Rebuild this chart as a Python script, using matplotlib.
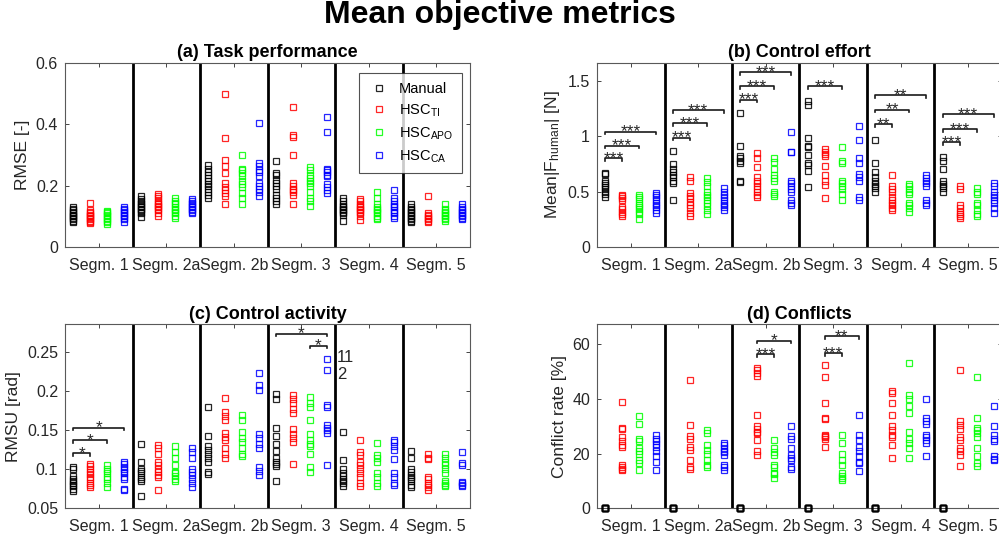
import numpy as np
import matplotlib.pyplot as plt

plt.rcParams['font.family'] = ['Liberation Sans', 'DejaVu Sans']
plt.rcParams['mathtext.default'] = 'regular'

segments = ['Segm. 1', 'Segm. 2a', 'Segm. 2b', 'Segm. 3', 'Segm. 4', 'Segm. 5']
groups = ['Manual', 'HSC$_{TI}$', 'HSC$_{APO}$', 'HSC$_{CA}$']
colors = ['k', (1, 0, 0), (0, 1, 0), (0, 0, 1)]

# (a) task performance, RMSE per segment
rmse_manual = [[0.13, 0.125, 0.12, 0.115, 0.11, 0.105, 0.10, 0.10, 0.095, 0.09, 0.085, 0.08],
               [0.165, 0.155, 0.15, 0.145, 0.14, 0.135, 0.13, 0.125, 0.12, 0.115, 0.11, 0.098],
               [0.267, 0.255, 0.245, 0.235, 0.225, 0.215, 0.205, 0.2, 0.19, 0.18, 0.17, 0.16],
               [0.28, 0.24, 0.235, 0.22, 0.21, 0.2, 0.19, 0.17, 0.16, 0.15, 0.14],
               [0.16, 0.15, 0.14, 0.135, 0.13, 0.125, 0.12, 0.115, 0.11, 0.105, 0.085],
               [0.14, 0.13, 0.125, 0.12, 0.115, 0.11, 0.105, 0.1, 0.095, 0.09, 0.085, 0.08]]
rmse_ti = [[0.145, 0.12, 0.115, 0.11, 0.105, 0.10, 0.10, 0.095, 0.09, 0.085, 0.08, 0.078],
           [0.172, 0.165, 0.16, 0.15, 0.145, 0.14, 0.135, 0.13, 0.125, 0.12, 0.11, 0.10],
           [0.5, 0.355, 0.285, 0.265, 0.24, 0.21, 0.195, 0.185, 0.175, 0.165, 0.14],
           [0.455, 0.365, 0.36, 0.3, 0.21, 0.2, 0.19, 0.185, 0.18, 0.17, 0.14],
           [0.155, 0.15, 0.14, 0.135, 0.13, 0.125, 0.12, 0.115, 0.11, 0.1, 0.088],
           [0.165, 0.11, 0.105, 0.1, 0.095, 0.09, 0.085, 0.08]]
rmse_apo = [[0.118, 0.115, 0.11, 0.105, 0.10, 0.095, 0.09, 0.085, 0.08, 0.076],
            [0.16, 0.15, 0.145, 0.14, 0.13, 0.125, 0.12, 0.115, 0.11, 0.10, 0.095],
            [0.3, 0.255, 0.25, 0.24, 0.23, 0.215, 0.205, 0.195, 0.175, 0.16, 0.14],
            [0.26, 0.25, 0.235, 0.225, 0.215, 0.21, 0.2, 0.18, 0.16, 0.15, 0.135],
            [0.18, 0.16, 0.14, 0.13, 0.125, 0.12, 0.115, 0.11, 0.1, 0.095, 0.09],
            [0.14, 0.125, 0.12, 0.115, 0.11, 0.105, 0.1, 0.095, 0.09, 0.085]]
rmse_ca = [[0.13, 0.125, 0.12, 0.115, 0.11, 0.105, 0.10, 0.095, 0.09, 0.08],
           [0.157, 0.15, 0.145, 0.14, 0.135, 0.13, 0.125, 0.12, 0.115, 0.11],
           [0.405, 0.275, 0.265, 0.25, 0.245, 0.23, 0.21, 0.2, 0.19, 0.18, 0.165],
           [0.423, 0.375, 0.255, 0.25, 0.245, 0.235, 0.23, 0.205, 0.195, 0.185, 0.175],
           [0.186, 0.16, 0.15, 0.14, 0.135, 0.13, 0.12, 0.115, 0.11, 0.1, 0.095],
           [0.14, 0.13, 0.125, 0.12, 0.115, 0.11, 0.105, 0.1, 0.095, 0.09]]

# (b) control effort, mean |F_human| per segment
force_manual = [[0.67, 0.66, 0.6, 0.58, 0.56, 0.54, 0.52, 0.5, 0.48, 0.45],
                [0.87, 0.75, 0.7, 0.68, 0.65, 0.63, 0.6, 0.58, 0.42],
                [1.21, 0.91, 0.82, 0.8, 0.78, 0.76, 0.6, 0.59],
                [1.32, 1.28, 0.98, 0.91, 0.9, 0.83, 0.76, 0.74, 0.69, 0.54],
                [0.97, 0.76, 0.68, 0.63, 0.6, 0.57, 0.55, 0.53, 0.5],
                [0.81, 0.78, 0.7, 0.6, 0.57, 0.55, 0.53, 0.5]]
force_ti = [[0.47, 0.46, 0.44, 0.42, 0.36, 0.34, 0.32, 0.3, 0.28],
            [0.63, 0.6, 0.49, 0.46, 0.44, 0.41, 0.38, 0.35, 0.31, 0.28],
            [0.85, 0.8, 0.72, 0.63, 0.6, 0.58, 0.55, 0.52, 0.5, 0.47, 0.45],
            [0.88, 0.86, 0.84, 0.82, 0.73, 0.65, 0.6, 0.56, 0.44],
            [0.65, 0.55, 0.52, 0.5, 0.45, 0.42, 0.4, 0.38, 0.35, 0.33],
            [0.55, 0.52, 0.38, 0.35, 0.32, 0.3, 0.28, 0.26]]
force_apo = [[0.47, 0.45, 0.43, 0.4, 0.38, 0.36, 0.34, 0.32, 0.3, 0.25],
             [0.62, 0.59, 0.55, 0.5, 0.47, 0.45, 0.42, 0.4, 0.37, 0.33, 0.3],
             [0.8, 0.77, 0.7, 0.65, 0.62, 0.6, 0.5, 0.48, 0.46],
             [0.9, 0.78, 0.76, 0.6, 0.58, 0.55, 0.52, 0.48, 0.42],
             [0.57, 0.55, 0.52, 0.5, 0.48, 0.4, 0.38, 0.35, 0.32],
             [0.53, 0.5, 0.48, 0.4, 0.38, 0.33, 0.3, 0.28]]
force_ca = [[0.49, 0.47, 0.45, 0.42, 0.4, 0.38, 0.36, 0.33, 0.31],
            [0.53, 0.5, 0.47, 0.45, 0.42, 0.4, 0.38, 0.36, 0.33],
            [1.04, 0.86, 0.86, 0.6, 0.58, 0.55, 0.52, 0.5, 0.42, 0.4, 0.38],
            [1.09, 0.97, 0.8, 0.76, 0.66, 0.63, 0.6, 0.45, 0.42],
            [0.65, 0.62, 0.6, 0.58, 0.55, 0.42, 0.4, 0.38],
            [0.58, 0.55, 0.5, 0.47, 0.45, 0.42, 0.4, 0.35, 0.31]]

# (c) control activity, RMSU per segment
rmsu_manual = [[0.103, 0.1, 0.092, 0.088, 0.085, 0.082, 0.08, 0.078, 0.075, 0.072],
               [0.132, 0.11, 0.1, 0.098, 0.095, 0.09, 0.087, 0.085, 0.066],
               [0.18, 0.143, 0.13, 0.125, 0.12, 0.115, 0.11, 0.096, 0.094],
               [0.196, 0.19, 0.153, 0.143, 0.132, 0.123, 0.115, 0.11, 0.107, 0.104, 0.085],
               [0.148, 0.112, 0.1, 0.095, 0.092, 0.088, 0.085, 0.082, 0.079],
               [0.123, 0.115, 0.1, 0.097, 0.093, 0.09, 0.087, 0.085, 0.08, 0.077]]
rmsu_ti = [[0.107, 0.104, 0.1, 0.097, 0.094, 0.09, 0.087, 0.083, 0.08, 0.077],
           [0.131, 0.128, 0.12, 0.11, 0.105, 0.1, 0.097, 0.093, 0.09, 0.074],
           [0.192, 0.173, 0.168, 0.163, 0.147, 0.142, 0.137, 0.128, 0.12, 0.115],
           [0.195, 0.19, 0.185, 0.178, 0.172, 0.152, 0.145, 0.14, 0.135, 0.107],
           [0.137, 0.122, 0.118, 0.11, 0.105, 0.1, 0.095, 0.09, 0.082, 0.078],
           [0.12, 0.115, 0.113, 0.09, 0.087, 0.083, 0.08, 0.077, 0.074]]
rmsu_apo = [[0.105, 0.1, 0.098, 0.095, 0.09, 0.087, 0.083, 0.077],
            [0.13, 0.122, 0.114, 0.105, 0.097, 0.095, 0.092, 0.088, 0.085],
            [0.17, 0.163, 0.148, 0.14, 0.135, 0.128, 0.12, 0.117],
            [0.193, 0.185, 0.18, 0.163, 0.145, 0.138, 0.132, 0.13, 0.12, 0.103, 0.097],
            [0.134, 0.118, 0.115, 0.11, 0.095, 0.09, 0.082, 0.078],
            [0.12, 0.115, 0.11, 0.105, 0.1, 0.095, 0.085, 0.082, 0.08, 0.078]]
rmsu_ca = [[0.11, 0.107, 0.103, 0.1, 0.097, 0.095, 0.09, 0.087, 0.075, 0.073],
           [0.127, 0.122, 0.115, 0.1, 0.097, 0.093, 0.088, 0.082, 0.077],
           [0.223, 0.208, 0.202, 0.145, 0.14, 0.132, 0.128, 0.103, 0.098, 0.093],
           [0.242, 0.228, 0.182, 0.18, 0.157, 0.153, 0.15, 0.146, 0.106],
           [0.138, 0.135, 0.13, 0.125, 0.113, 0.095, 0.09, 0.083, 0.08],
           [0.122, 0.108, 0.105, 0.084, 0.082, 0.08, 0.078]]

# (d) conflicts, conflict rate [%] per segment
conf_manual = [[0] * 10 for _ in range(6)]
conf_ti = [[39, 29.5, 29, 26, 24.5, 23, 22.5, 16, 15, 14.5, 14],
           [47, 30.5, 26.5, 25.5, 22.5, 21.5, 17.5, 15, 14.5],
           [51.5, 50.5, 49.5, 48.5, 34, 30, 29, 28, 27.5, 25, 21, 19.5],
           [52.3, 48, 38.5, 33, 32.8, 27, 26.5, 26, 25.5, 22.5],
           [43, 42, 38.5, 34, 30, 28.5, 27, 26, 23, 18.5],
           [50.5, 32, 30.5, 29, 26, 25, 22, 21, 19.5, 15.5]]
conf_apo = [[33.8, 30.8, 25.5, 24.5, 22, 21, 20, 17.5, 16.5, 14],
            [28.5, 27.5, 23, 21.5, 20, 17.5, 16, 15],
            [25, 22, 20.5, 19.5, 16, 15, 13, 12.5, 11],
            [27, 24, 20, 17.5, 16, 13, 12, 11, 10.5],
            [53, 41.5, 40, 37.5, 35, 28, 25.5, 24, 22, 18.5],
            [48, 33, 29.5, 28.5, 27.5, 26, 22, 19, 16.5, 15.5]]
conf_ca = [[26.8, 25.5, 24.5, 23.5, 22.5, 21, 19, 17, 14],
           [24, 23, 22, 21, 20.5, 19.5, 16, 15, 14],
           [30, 26.5, 25.5, 22, 19.5, 18.5, 17.5, 15, 14.5],
           [34, 27, 25, 22.5, 21, 19, 17, 16.5, 13.5],
           [40, 33, 32, 31, 27, 26, 25, 24, 19],
           [37.5, 30, 27, 25.5, 24.5, 19, 18, 17.5]]

# significance brackets: (segment, group a, group b, height, stars)
sig_force = [(0, 0, 1, 0.80, '***'), (0, 0, 2, 0.915, '***'), (0, 0, 3, 1.04, '***'),
             (1, 0, 1, 0.985, '***'), (1, 0, 2, 1.115, '***'), (1, 0, 3, 1.235, '***'),
             (2, 0, 1, 1.33, '***'), (2, 0, 2, 1.45, '***'), (2, 0, 3, 1.575, '***'),
             (3, 0, 2, 1.45, '***'),
             (4, 0, 1, 1.11, '**'), (4, 0, 2, 1.24, '**'), (4, 0, 3, 1.37, '**'),
             (5, 0, 1, 0.945, '***'), (5, 0, 2, 1.065, '***'), (5, 0, 3, 1.2, '***')]
sig_rmsu = [(0, 0, 1, 0.121, '*'), (0, 0, 2, 0.137, '*'), (0, 0, 3, 0.1535, '*'),
            (3, 0, 3, 0.2738, '*'), (3, 2, 3, 0.2585, '*')]
sig_conf = [(2, 1, 2, 56.4, '***'), (2, 1, 3, 61.3, '*'),
            (3, 1, 2, 56.8, '***'), (3, 1, 3, 62.9, '**')]

# outlier participant labels in (c)
outlier_x = [16.12, 16.12]
outlier_y = [0.2435, 0.222]
outlier_txt = ['11', '2']


def draw_panel(ax, data, ylim, yticks, yticklabels, ylabel, title, sig=()):
    for s in range(1, 6):
        ax.axvline(4 * s, color='k', lw=2, zorder=1)
    for g, vals in enumerate(data):
        for s, seg_vals in enumerate(vals):
            x = np.full(len(seg_vals), 4 * s + g + 0.5)
            ax.plot(x, seg_vals, 's', ms=4.2, mfc='none', mec=colors[g], mew=0.9,
                    alpha=0.85, clip_on=False, zorder=3,
                    label=groups[g] if s == 0 else None)
    d = 0.014 * (ylim[1] - ylim[0])
    for s, g1, g2, y, stars in sig:
        x1 = 4 * s + g1 + 0.5
        x2 = 4 * s + g2 + 0.5
        ax.plot([x1, x1, x2, x2], [y - d, y, y, y - d], color='0.1', lw=1.2)
        ax.annotate(stars, (0.5 * (x1 + x2), y), xytext=(0, -3.4), textcoords='offset points',
                    ha='center', va='baseline', fontsize=12.5, color='0.15')
    ax.set_xlim(0, 24)
    ax.set_ylim(ylim)
    ax.set_xticks(np.arange(2, 24, 4))
    ax.set_xticklabels(segments)
    ax.set_yticks(yticks)
    ax.set_yticklabels(yticklabels)
    ax.tick_params(direction='in', top=True, right=True, length=3, width=0.6,
                   colors='0.15', labelsize=11.5, pad=5)
    ax.tick_params(axis='x', pad=8)
    for sp in ax.spines.values():
        sp.set_color('0.35')
        sp.set_linewidth(0.8)
    ax.set_ylabel(ylabel, fontsize=12.5, color='0.15', labelpad=4)
    ax.set_title(title, fontsize=13, fontweight='bold', pad=4)


fig = plt.figure(figsize=(9.99, 5.41), dpi=100)
ax1 = fig.add_axes([0.0651, 0.5434, 0.4054, 0.3401])
ax2 = fig.add_axes([0.5976, 0.5434, 0.4054, 0.3401])
ax3 = fig.add_axes([0.0651, 0.0604, 0.4054, 0.3401])
ax4 = fig.add_axes([0.5976, 0.0604, 0.4054, 0.3401])

draw_panel(ax1, [rmse_manual, rmse_ti, rmse_apo, rmse_ca], (0, 0.6),
           [0, 0.2, 0.4, 0.6], ['0', '0.2', '0.4', '0.6'], 'RMSE [-]', '(a) Task performance')
draw_panel(ax2, [force_manual, force_ti, force_apo, force_ca], (0, 1.66),
           [0, 0.5, 1, 1.5], ['0', '0.5', '1', '1.5'], 'Mean|F$_{human}$| [N]',
           '(b) Control effort', sig_force)
draw_panel(ax3, [rmsu_manual, rmsu_ti, rmsu_apo, rmsu_ca], (0.05, 0.286),
           [0.05, 0.1, 0.15, 0.2, 0.25], ['0.05', '0.1', '0.15', '0.2', '0.25'],
           'RMSU [rad]', '(c) Control activity', sig_rmsu)
draw_panel(ax4, [conf_manual, conf_ti, conf_apo, conf_ca], (0, 67.3),
           [0, 20, 40, 60], ['0', '20', '40', '60'], 'Conflict rate [%]',
           '(d) Conflicts', sig_conf)

for x, y, t in zip(outlier_x, outlier_y, outlier_txt):
    ax3.text(x, y, t, fontsize=12, ha='left', va='center', color='0.15')

leg = ax1.legend(loc='upper right', bbox_to_anchor=(0.98, 0.946), borderaxespad=0,
                 fontsize=10.5, frameon=True, fancybox=False, edgecolor='0.15',
                 labelspacing=0.45, handletextpad=0.55, borderpad=0.6, handlelength=1.6)
leg.get_frame().set_linewidth(0.8)

fig.text(0.5, 0.973, 'Mean objective metrics', fontsize=23, fontweight='bold',
         ha='center', va='center')

fig.savefig('out.png', dpi=100)
